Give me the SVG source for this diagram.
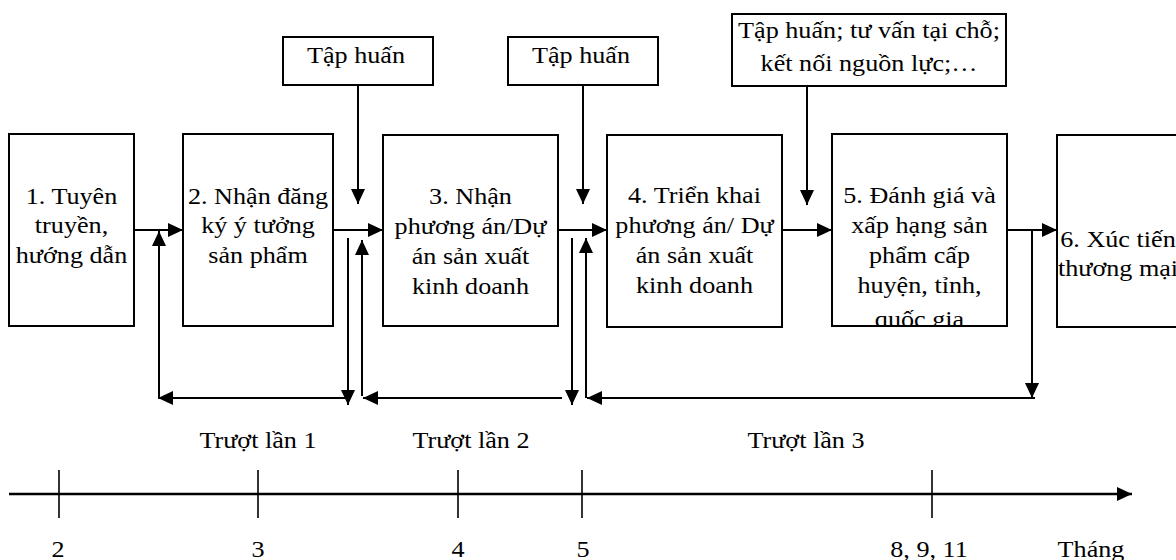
<svg xmlns="http://www.w3.org/2000/svg" width="1176" height="560" viewBox="0 0 1176 560">
<style>
.box{fill:#fff;stroke:#000;stroke-width:2}
.t{font-family:"Liberation Serif","Times New Roman",serif;font-size:24px;fill:#000;text-anchor:middle}
.c{stroke:#000;stroke-width:2;fill:none}
.ca{stroke:#000;stroke-width:2;fill:none;marker-end:url(#ah)}
.tick{stroke:#000;stroke-width:1.6}
</style>
<defs>
<marker id="ah" markerUnits="userSpaceOnUse" markerWidth="15" markerHeight="14" refX="15" refY="7" orient="auto">
<path d="M0,0 L15,7 L0,14 Z" fill="#000"/>
</marker>
<clipPath id="clip5"><rect x="832" y="134" width="175" height="191"/></clipPath>
</defs>
<rect width="1176" height="560" fill="#fff"/>

<g id="n1">
<rect class="box" x="9" y="134" width="125" height="192"/>
<text class="t" transform="translate(71.5 0) scale(1.09 1)"><tspan x="0" y="204">1. Tuyên</tspan><tspan x="0" y="233">truyền,</tspan><tspan x="0" y="263">hướng dẫn</tspan></text>
</g>
<g id="n2">
<rect class="box" x="183" y="134" width="150" height="192"/>
<text class="t" transform="translate(258 0) scale(1.09 1)"><tspan x="0" y="204">2. Nhận đăng</tspan><tspan x="0" y="233">ký ý tưởng</tspan><tspan x="0" y="263">sản phẩm</tspan></text>
</g>
<g id="n3">
<rect class="box" x="383" y="135" width="175" height="191"/>
<text class="t" transform="translate(470.5 0) scale(1.09 1)"><tspan x="0" y="204">3. Nhận</tspan><tspan x="0" y="234">phương án/Dự</tspan><tspan x="0" y="264">án sản xuất</tspan><tspan x="0" y="294">kinh doanh</tspan></text>
</g>
<g id="n4">
<rect class="box" x="607" y="135" width="175" height="192"/>
<text class="t" transform="translate(694.5 0) scale(1.09 1)"><tspan x="0" y="203">4. Triển khai</tspan><tspan x="0" y="233">phương án/ Dự</tspan><tspan x="0" y="263">án sản xuất</tspan><tspan x="0" y="293">kinh doanh</tspan></text>
</g>
<g id="n5">
<rect class="box" x="832" y="134" width="175" height="192"/>
<g clip-path="url(#clip5)">
<text class="t" transform="translate(919.5 0) scale(1.09 1)"><tspan x="0" y="203">5. Đánh giá và</tspan><tspan x="0" y="233">xấp hạng sản</tspan><tspan x="0" y="263">phẩm cấp</tspan><tspan x="0" y="293">huyện, tỉnh,</tspan><tspan x="0" y="327">quốc gia</tspan></text>
</g>
</g>
<g id="n6">
<rect class="box" x="1057" y="135" width="180" height="192"/>
<text class="t" transform="translate(1118 0) scale(1.09 1)"><tspan x="0" y="247">6. Xúc tiến</tspan><tspan x="0" y="276">thương mại</tspan></text>
</g>
<g id="s1">
<rect class="box" x="283" y="37" width="150" height="48"/>
<text class="t" transform="translate(356 0) scale(1.09 1)" x="0" y="63">Tập huấn</text>
</g>
<g id="s2">
<rect class="box" x="508" y="37" width="150" height="48"/>
<text class="t" transform="translate(581 0) scale(1.09 1)" x="0" y="63">Tập huấn</text>
</g>
<g id="s3">
<rect class="box" x="732" y="14" width="274" height="72"/>
<text class="t" transform="translate(869 0) scale(1.09 1)"><tspan x="0" y="38">Tập huấn; tư vấn tại chỗ;</tspan><tspan x="0" y="71">kết nối nguồn lực;…</tspan></text>
</g>

<g id="connectors">
<line class="ca" x1="358" y1="85" x2="358" y2="204"/>
<line class="ca" x1="583" y1="85" x2="583" y2="204"/>
<line class="ca" x1="807" y1="86" x2="807" y2="205"/>
<line class="ca" x1="134" y1="230" x2="183" y2="230"/>
<line class="ca" x1="333" y1="230" x2="383" y2="230"/>
<line class="ca" x1="558" y1="230" x2="607" y2="230"/>
<line class="ca" x1="782" y1="230" x2="832" y2="230"/>
<line class="ca" x1="1007" y1="230" x2="1057" y2="230"/>
<line class="ca" x1="159" y1="398" x2="159" y2="231"/>
<line class="ca" x1="347" y1="398" x2="158" y2="398"/>
<line class="ca" x1="348" y1="238" x2="348" y2="405"/>
<line class="ca" x1="362" y1="396" x2="362" y2="240"/>
<line class="ca" x1="562" y1="398" x2="363" y2="398"/>
<line class="ca" x1="572" y1="238" x2="572" y2="405"/>
<line class="ca" x1="586" y1="398" x2="586" y2="238"/>
<line class="ca" x1="1035" y1="398" x2="587" y2="398"/>
<line class="ca" x1="1032" y1="230" x2="1032" y2="398"/>
</g>

<g id="timeline">
<line class="ca" x1="9" y1="494" x2="1132" y2="494" style="stroke-width:2.4"/>
<line class="tick" x1="59" y1="470" x2="59" y2="518"/>
<line class="tick" x1="258" y1="470" x2="258" y2="518"/>
<line class="tick" x1="458" y1="470" x2="458" y2="518"/>
<line class="tick" x1="582" y1="470" x2="582" y2="518"/>
<line class="tick" x1="932" y1="470" x2="932" y2="518"/>
<text class="t" transform="translate(258 0) scale(1.09 1)" x="0" y="448">Trượt lần 1</text>
<text class="t" transform="translate(471 0) scale(1.09 1)" x="0" y="448">Trượt lần 2</text>
<text class="t" transform="translate(806 0) scale(1.09 1)" x="0" y="448">Trượt lần 3</text>
<text class="t" transform="translate(58 0) scale(1.09 1)" x="0" y="557">2</text>
<text class="t" transform="translate(258 0) scale(1.09 1)" x="0" y="557">3</text>
<text class="t" transform="translate(458 0) scale(1.09 1)" x="0" y="557">4</text>
<text class="t" transform="translate(583 0) scale(1.09 1)" x="0" y="557">5</text>
<text class="t" transform="translate(929 0) scale(1.09 1)" x="0" y="557">8, 9, 11</text>
<text class="t" transform="translate(1091 0) scale(1.09 1)" x="0" y="557">Tháng</text>
</g>
</svg>
